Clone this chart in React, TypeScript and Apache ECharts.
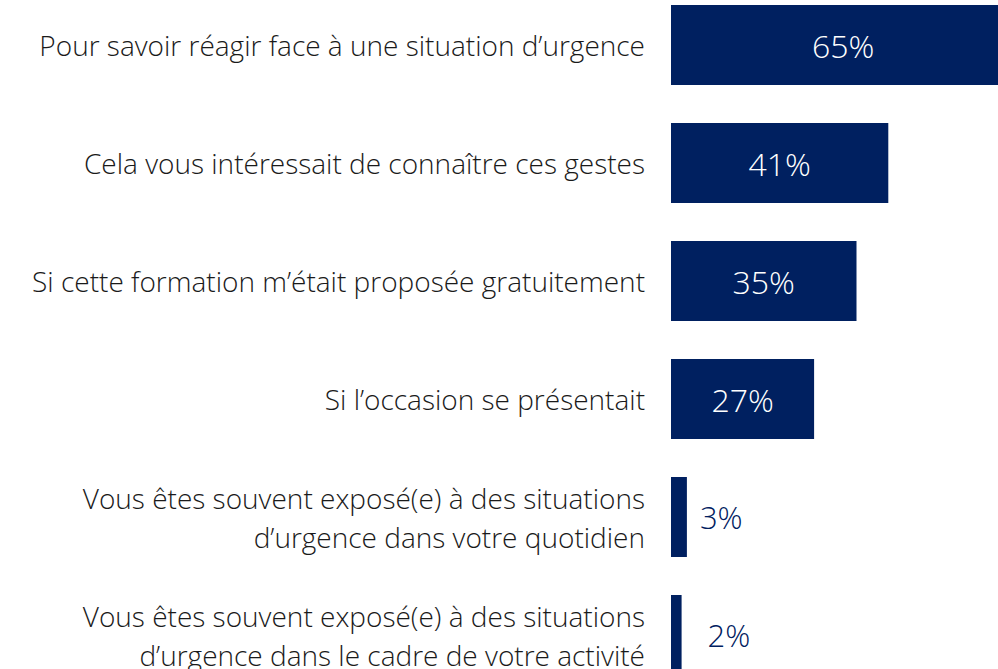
import React, { useEffect, useRef } from "react";
import * as echarts from "echarts";

const categories = [
  "Pour savoir réagir face à une situation d’urgence",
  "Cela vous intéressait de connaître ces gestes",
  "Si cette formation m’était proposée gratuitement",
  "Si l’occasion se présentait",
  "Vous êtes souvent exposé(e) à des situations\nd’urgence dans votre quotidien",
  "Vous êtes souvent exposé(e) à des situations\nd’urgence dans le cadre de votre activité",
];
const values = [65, 41, 35, 27, 3, 2];

const NAVY = "#002060";
const FONT = "Open Sans";
const OFFSET_Y = 20;

export default function App() {
  const ref = useRef<HTMLDivElement>(null);
  useEffect(() => {
    const chart = echarts.init(ref.current!, null, { renderer: "svg" });
    chart.setOption({
      animation: false,
      grid: { left: 671, top: -14 + OFFSET_Y, width: 424, height: 708, containLabel: false },
      xAxis: {
        type: "value",
        min: 0,
        max: 80,
        show: false,
      },
      yAxis: {
        type: "category",
        inverse: true,
        data: categories,
        axisLine: { show: false },
        axisTick: { show: false },
        axisLabel: {
          margin: 26,
          color: "#1a1a1a",
          fontFamily: FONT,
          fontWeight: 300,
          fontSize: 28,
          lineHeight: 39,
          align: "right",
        },
      },
      series: [
        {
          type: "bar",
          barWidth: 80,
          data: values.map((v) => ({
            value: v,
            label:
              v >= 10
                ? { show: true, position: "inside", color: "#ffffff", fontSize: 32 }
                : { show: true, position: "right", distance: v < 3 ? 26 : 13, color: NAVY, fontSize: 31 },
          })),
          itemStyle: { color: NAVY },
          label: {
            show: true,
            fontFamily: FONT,
            fontWeight: 300,
            formatter: "{c}%",
          },
        },
      ],
    });
    return () => chart.dispose();
  }, []);
  return (
    <div style={{ width: 998, height: 669, position: "fixed", left: 0, top: 0, overflow: "hidden", background: "#fff" }}>
      <div ref={ref} style={{ width: 1100, height: 720, position: "absolute", left: 0, top: -OFFSET_Y }} />
    </div>
  );
}
